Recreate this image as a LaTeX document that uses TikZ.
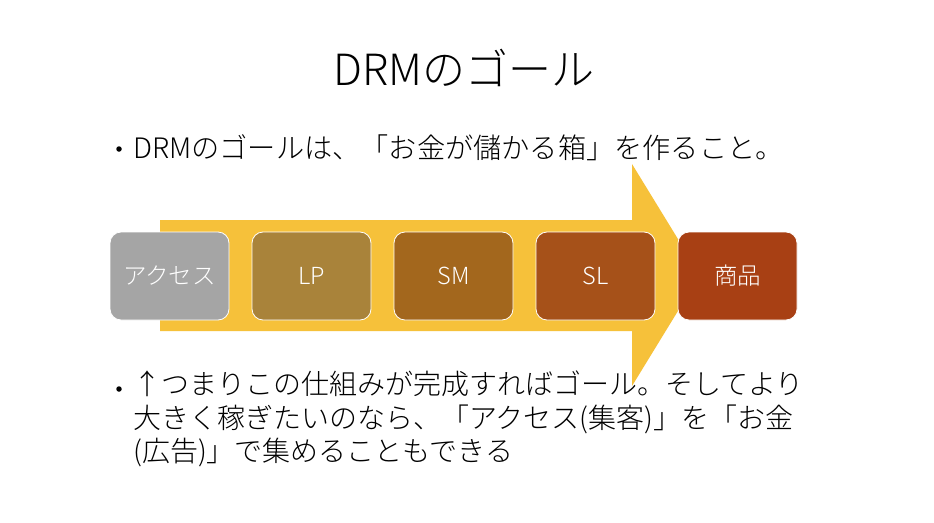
\documentclass[tikz,border=0pt]{standalone}
\usepackage{fontspec}
\setmainfont{Noto Sans CJK JP}[UprightFont={* Light}]
\definecolor{arrowc}{RGB}{246,193,58}
\definecolor{c1}{RGB}{165,165,165}
\definecolor{c2}{RGB}{169,131,58}
\definecolor{c3}{RGB}{163,103,29}
\definecolor{c4}{RGB}{166,81,25}
\definecolor{c5}{RGB}{168,64,20}
\begin{document}
\begin{tikzpicture}[x=1pt,y=-1pt,
  stage/.style={draw=white,line width=0.8pt,rounded corners=11pt,minimum width=119pt,minimum height=88pt,inner sep=0pt,text=white,font=\fontsize{23.5}{28}\selectfont},
  bodytext/.style={anchor=west,inner sep=0pt,font=\fontsize{28.2}{33}\selectfont,align=left},
  bulletdot/.style={fill=black,circle,inner sep=0pt,minimum size=5.5pt}]
\useasboundingbox (0,0) rectangle (934,522);
\fill[white] (0,0) rectangle (934,522);
% arrow
\fill[arrowc] (160,220) -- (632,220) -- (632,164) -- (700,275) -- (632,386) -- (632,331) -- (160,331) -- cycle;
% boxes
\node[stage,fill=c1] (acc) at (169.5,276) {アクセス};
\node[stage,fill=c2] (lp) at (311.5,276) {LP};
\node[stage,fill=c3] (sm) at (453.5,276) {SM};
\node[stage,fill=c4] (sl) at (595.5,276) {SL};
\node[stage,fill=c5] (prod) at (737.5,276) {商品};
% title
\node[inner sep=0pt,font=\fontsize{43}{50}\selectfont] (title) at (464,68) {DRMのゴール};
% bullets
\node[bulletdot] (b1) at (119,149) {};
\node[bodytext] (t1) at (133,148) {DRMのゴールは、「お金が儲かる箱」を作ること。};
\node[bulletdot] (b2) at (119,389) {};
\node[bodytext,anchor=north west,font=\fontsize{28}{33.5}\selectfont] (t2) at (133,371) {↑つまりこの仕組みが完成すればゴール。そしてより\\大きく稼ぎたいのなら、「アクセス(集客)」を「お金\\(広告)」で集めることもできる};
\end{tikzpicture}
\end{document}
